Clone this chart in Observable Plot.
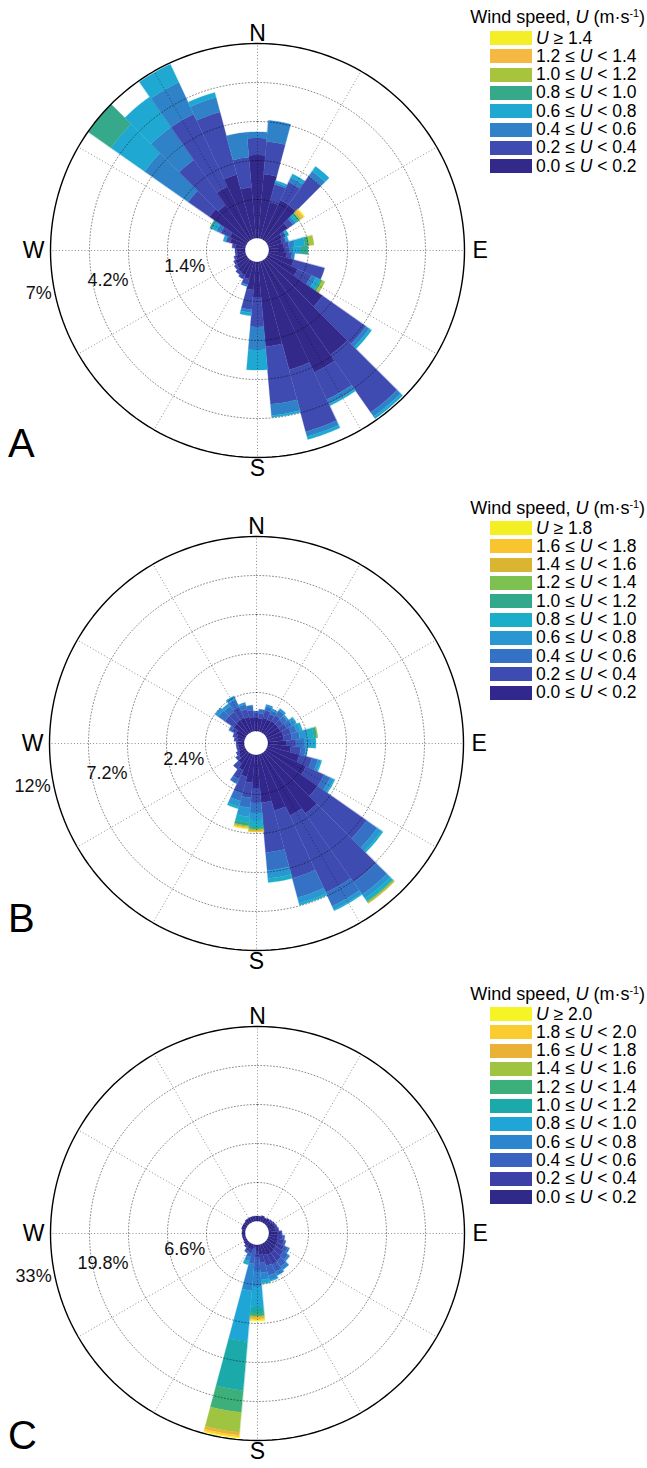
<!DOCTYPE html>
<html>
<head>
<meta charset="utf-8">
<script src="https://cdn.jsdelivr.net/npm/d3@7"></script>
<script src="https://cdn.jsdelivr.net/npm/@observablehq/plot@0.6"></script>
<style>
  body { margin: 0; background: #fff; font-family: "Liberation Sans", Arial, Helvetica, sans-serif; }
  .panel { position: relative; width: 647px; }
  .panel svg { display: block; }
  .legend-title { position: absolute; right: 2px; font-size: 18px; line-height: 18px; white-space: nowrap; color: #000; }
  .legend-title sup { font-size: 0.6em; position: relative; top: -0.55em; vertical-align: baseline; }
  .legend-row { position: absolute; left: 490px; height: 18px; display: flex; align-items: center; white-space: nowrap; font-size: 17.5px; color: #000; }
  .legend-row .swatch { width: 42px; height: 14px; margin-right: 4px; }
  .letter { position: absolute; left: 8px; font-size: 40px; line-height: 40px; color: #000; }
</style>
</head>
<body>
<div id="figure"></div>
<script>
// Direction bins (compass degrees, 10° wide, centred on each value)
const directions = d3.range(0, 360, 10);

// ---------- Site A ----------
const edgesA = [0, 0.2, 0.4, 0.6, 0.8, 1.0, 1.2, 1.4];
const colorsA = ["#33298a", "#3f4bb0", "#2f82c8", "#1fa9d2", "#35a98a", "#a7c43c", "#f5b843", "#f3ee27"];
const ringsA = [1.4, 2.8, 4.2, 5.6, 7];
const ringLabelsA = [1.4, 4.2, 7];
// frequency (%) per speed class, one value per direction bin
const freqA0 = [2.98, 2.30, 1.36, 1.54, 1.54, 0.93, 0.57, 0.50, 0.54, 0.57, 0.65, 0.93, 1.18, 2.44, 4.16, 4.42, 4.02, 3.05, 1.26, 1.01, 0.65, 0.57, 0.54, 0.47, 0.43, 0.36, 0.29, 0.29, 0.36, 0.57, 0.65, 1.65, 1.54, 2.08, 2.37, 1.83];
const freqA1 = [0.61, 1.18, 0.65, 0.72, 1.26, 0.22, 0.15, 0.15, 0.18, 0.15, 0.18, 1.15, 0.54, 1.90, 2.52, 1.07, 2.30, 2.08, 1.07, 0.71, 0.21, 0.15, 0.11, 0.10, 0.07, 0.07, 0.07, 0.07, 0.11, 0.15, 0.36, 0.93, 1.98, 2.87, 2.33, 1.08];
const freqA2 = [0.22, 0.76, 0.07, 0.18, 0.22, 0.11, 0, 0, 0.21, 0.14, 0.10, 0, 0.18, 0.15, 0.18, 0.18, 0.18, 0.40, 0.83, 0.11, 0.07, 0, 0, 0, 0, 0, 0, 0, 0, 0.03, 0.17, 1.91, 1.43, 1.26, 0.54, 0.90];
const freqA3 = [0, 0, 0.07, 0.14, 0.21, 0.10, 0.11, 0.10, 0.36, 0.29, 0, 0, 0.18, 0.10, 0.10, 0.07, 0.11, 0.07, 0.72, 0.11, 0, 0, 0, 0, 0, 0, 0, 0, 0, 0.08, 0.18, 1.47, 1.33, 0.72, 0.18, 0];
const freqA4 = [0, 0, 0, 0, 0, 0.08, 0, 0, 0.15, 0.25, 0, 0, 0.07, 0, 0, 0, 0, 0, 0, 0, 0, 0, 0, 0, 0, 0, 0, 0, 0, 0, 0.08, 1.00, 0, 0, 0, 0];
const freqA5 = [0, 0, 0, 0, 0, 0.07, 0, 0, 0.18, 0, 0, 0, 0.11, 0, 0, 0, 0, 0, 0, 0, 0, 0, 0, 0, 0, 0, 0, 0, 0, 0, 0, 0, 0, 0, 0, 0];
const freqA6 = [0, 0, 0, 0, 0, 0.11, 0, 0, 0, 0, 0, 0, 0, 0, 0, 0, 0, 0, 0, 0, 0, 0, 0, 0, 0, 0, 0, 0, 0, 0, 0, 0, 0, 0, 0, 0];
const freqA7 = [0, 0, 0, 0, 0, 0.04, 0, 0, 0, 0, 0, 0, 0, 0, 0, 0, 0, 0, 0, 0, 0, 0, 0, 0, 0, 0, 0, 0, 0, 0, 0, 0, 0, 0, 0, 0];

// ---------- Site B ----------
const edgesB = [0, 0.2, 0.4, 0.6, 0.8, 1.0, 1.2, 1.4, 1.6, 1.8];
const colorsB = ["#31278c", "#3e4cb2", "#3572c6", "#2a96d2", "#1cadc9", "#33a98c", "#7dc150", "#d9b531", "#f8c430", "#f4ef22"];
const ringsB = [2.4, 4.8, 7.2, 9.6, 12];
const ringLabelsB = [2.4, 7.2, 12];
const freqB0 = [0.80, 0.80, 0.86, 0.86, 0.92, 0.92, 0.92, 0.98, 0.98, 1.11, 1.42, 2.03, 2.65, 3.88, 4.55, 4.18, 3.57, 2.95, 2.03, 1.72, 1.42, 1.11, 0.80, 0.55, 0.43, 0.37, 0.37, 0.37, 0.43, 0.49, 0.62, 0.92, 0.98, 0.98, 0.92, 0.86];
const freqB1 = [0.31, 0.31, 0.49, 0.37, 0.43, 0.37, 0.43, 0.50, 0.50, 0.61, 0.61, 0.80, 1.23, 3.69, 5.17, 5.24, 4.31, 3.08, 0.92, 0.93, 1.04, 0.61, 0.43, 0.25, 0.19, 0.12, 0.12, 0.12, 0.19, 0.25, 0.30, 0.68, 0.62, 0.74, 0.50, 0.43];
const freqB2 = [0.12, 0.24, 0.25, 0.25, 0.37, 0.31, 0.37, 0.37, 0.49, 0.50, 0.31, 0.37, 0.43, 0.80, 0.93, 0.92, 1.23, 1.11, 0.62, 0.61, 0.49, 0.31, 0, 0, 0, 0, 0, 0, 0, 0, 0.19, 0.49, 0.43, 0.50, 0.30, 0.31];
const freqB3 = [0, 0, 0.12, 0.12, 0.13, 0.12, 0.25, 0.24, 0.49, 0.43, 0.12, 0.18, 0.24, 0.31, 0.30, 0.24, 0.37, 0.49, 0.49, 0.56, 0.37, 0, 0, 0, 0, 0, 0, 0, 0, 0, 0, 0.25, 0.19, 0.24, 0.13, 0];
const freqB4 = [0, 0, 0, 0, 0, 0, 0.06, 0.13, 0.37, 0.30, 0, 0.07, 0.07, 0.12, 0.19, 0.07, 0.12, 0.25, 0.37, 0.36, 0.13, 0, 0, 0, 0, 0, 0, 0, 0, 0, 0, 0, 0, 0, 0, 0];
const freqB5 = [0, 0, 0, 0, 0, 0, 0, 0, 0.19, 0, 0, 0, 0, 0, 0.06, 0, 0, 0, 0.12, 0.19, 0, 0, 0, 0, 0, 0, 0, 0, 0, 0, 0, 0, 0, 0, 0, 0];
const freqB6 = [0, 0, 0, 0, 0, 0, 0, 0, 0.06, 0, 0, 0, 0, 0, 0.06, 0, 0, 0, 0.07, 0.06, 0, 0, 0, 0, 0, 0, 0, 0, 0, 0, 0, 0, 0, 0, 0, 0];
const freqB7 = [0, 0, 0, 0, 0, 0, 0, 0, 0, 0, 0, 0, 0, 0, 0.06, 0, 0, 0, 0.06, 0.06, 0, 0, 0, 0, 0, 0, 0, 0, 0, 0, 0, 0, 0, 0, 0, 0];
const freqB8 = [0, 0, 0, 0, 0, 0, 0, 0, 0, 0, 0, 0, 0, 0, 0, 0, 0, 0, 0.06, 0.06, 0, 0, 0, 0, 0, 0, 0, 0, 0, 0, 0, 0, 0, 0, 0, 0];
const freqB9 = [0, 0, 0, 0, 0, 0, 0, 0, 0, 0, 0, 0, 0, 0, 0, 0, 0, 0, 0, 0.03, 0, 0, 0, 0, 0, 0, 0, 0, 0, 0, 0, 0, 0, 0, 0, 0];

// ---------- Site C ----------
const edgesC = [0, 0.2, 0.4, 0.6, 0.8, 1.0, 1.2, 1.4, 1.6, 1.8, 2.0];
const colorsC = ["#2f2a8a", "#3c3fa8", "#3a62c0", "#2c86cf", "#1fa5d6", "#1ca9aa", "#3daf7b", "#9fc441", "#e9b236", "#fbcc30", "#f5f424"];
const ringsC = [6.6, 13.2, 19.8, 26.4, 33];
const ringLabelsC = [6.6, 19.8, 33];
const freqC0 = [0.85, 0.85, 1.02, 0.85, 1.02, 0.85, 1.02, 1.18, 1.18, 1.35, 1.52, 1.69, 1.69, 1.86, 2.03, 2.03, 1.86, 1.69, 1.02, 0.34, 0.85, 0.85, 0.68, 0.68, 0.51, 0.51, 0.51, 0.51, 0.51, 0.68, 0.68, 0.68, 0.85, 0.85, 0.85, 0.85];
const freqC1 = [0, 0, 0, 0, 0, 0.33, 0.33, 0.34, 0.51, 0.68, 0.85, 1.02, 1.36, 1.52, 1.69, 1.86, 1.86, 1.36, 1.01, 0.34, 0.67, 0.50, 0.34, 0, 0, 0, 0, 0, 0, 0, 0, 0, 0, 0, 0, 0];
const freqC2 = [0, 0, 0, 0, 0, 0, 0, 0, 0, 0.17, 0.34, 0.34, 0.68, 1.02, 1.19, 1.36, 1.70, 1.69, 2.37, 2.54, 0.68, 0.34, 0, 0, 0, 0, 0, 0, 0, 0, 0, 0, 0, 0, 0, 0];
const freqC3 = [0, 0, 0, 0, 0, 0, 0, 0, 0, 0, 0, 0, 0.33, 0.34, 0.67, 0.67, 0.84, 1.18, 2.71, 4.56, 0.68, 0, 0, 0, 0, 0, 0, 0, 0, 0, 0, 0, 0, 0, 0, 0];
const freqC4 = [0, 0, 0, 0, 0, 0, 0, 0, 0, 0, 0, 0, 0, 0, 0, 0, 0.17, 0.51, 3.38, 8.64, 0.34, 0, 0, 0, 0, 0, 0, 0, 0, 0, 0, 0, 0, 0, 0, 0];
const freqC5 = [0, 0, 0, 0, 0, 0, 0, 0, 0, 0, 0, 0, 0, 0, 0, 0, 0, 0.17, 1.02, 8.29, 0.33, 0, 0, 0, 0, 0, 0, 0, 0, 0, 0, 0, 0, 0, 0, 0];
const freqC6 = [0, 0, 0, 0, 0, 0, 0, 0, 0, 0, 0, 0, 0, 0, 0, 0, 0, 0, 0.51, 3.72, 0, 0, 0, 0, 0, 0, 0, 0, 0, 0, 0, 0, 0, 0, 0, 0];
const freqC7 = [0, 0, 0, 0, 0, 0, 0, 0, 0, 0, 0, 0, 0, 0, 0, 0, 0, 0, 0.16, 3.39, 0, 0, 0, 0, 0, 0, 0, 0, 0, 0, 0, 0, 0, 0, 0, 0];
const freqC8 = [0, 0, 0, 0, 0, 0, 0, 0, 0, 0, 0, 0, 0, 0, 0, 0, 0, 0, 0.34, 0.50, 0, 0, 0, 0, 0, 0, 0, 0, 0, 0, 0, 0, 0, 0, 0, 0];
const freqC9 = [0, 0, 0, 0, 0, 0, 0, 0, 0, 0, 0, 0, 0, 0, 0, 0, 0, 0, 0.17, 0.34, 0, 0, 0, 0, 0, 0, 0, 0, 0, 0, 0, 0, 0, 0, 0, 0];
const freqC10 = [0, 0, 0, 0, 0, 0, 0, 0, 0, 0, 0, 0, 0, 0, 0, 0, 0, 0, 0.17, 0.17, 0, 0, 0, 0, 0, 0, 0, 0, 0, 0, 0, 0, 0, 0, 0, 0];

const compass = [
  {label: "N", angle: 0},
  {label: "E", angle: 90},
  {label: "S", angle: 180},
  {label: "W", angle: 270}
];

const FONT = '"Liberation Sans", Arial, Helvetica, sans-serif';
const WIDTH = 647;
const rad = (deg) => deg * Math.PI / 180;

// class names used as the ordinal colour domain
function classNames(edges) {
  return edges.map((e, i) => i < edges.length - 1
    ? `${e.toFixed(1)}–${edges[i + 1].toFixed(1)}`
    : `≥${e.toFixed(1)}`);
}

// annular sectors: each stacked speed class of each direction bin
function sectorRows(freqs, names, hole, binWidth) {
  const rows = [];
  directions.forEach((dir, i) => {
    let inner = hole;
    freqs.forEach((series, k) => {
      const v = series[i];
      if (!(v > 0)) return;
      const outer = inner + v;
      const steps = 12;
      for (let s = 0; s <= steps; s++) {
        const a = rad(dir - binWidth / 2 + binWidth * s / steps);
        rows.push({
          id: `${dir}-${k}`, cls: names[k],
          x1: outer * Math.sin(a), y1: outer * Math.cos(a),
          x2: inner * Math.sin(a), y2: inner * Math.cos(a)
        });
      }
      inner = outer;
    });
  });
  return rows;
}

function circleRows(radii) {
  const rows = [];
  radii.forEach((r) => {
    for (let a = 0; a <= 360; a += 2) rows.push({ring: r, x: r * Math.sin(rad(a)), y: r * Math.cos(rad(a))});
  });
  return rows;
}

function rose(cfg) {
  const {freqs, edges, colors, rings, labeled, height, cx, cy} = cfg;
  const maxPct = rings[rings.length - 1];
  const k = 195 / maxPct;          // pixels per percent
  const hole = 12 / k;             // empty centre, in percent units
  const outer = hole + maxPct;
  const names = classNames(edges);
  const sectors = sectorRows(freqs, names, hole, 10);
  const gridRings = circleRows(rings.slice(0, -1).map((r) => hole + r));
  const rim = circleRows([outer]);
  const spokes = d3.range(0, 360, 30).map((a) => ({
    x1: hole * Math.sin(rad(a)), y1: hole * Math.cos(rad(a)),
    x2: outer * Math.sin(rad(a)), y2: outer * Math.cos(rad(a))
  }));
  const labelAngle = rad(260);
  const ringText = labeled.map((v) => ({
    text: `${v}%`,
    x: (hole + v) * Math.sin(labelAngle),
    y: (hole + v) * Math.cos(labelAngle)
  }));
  const dirPos = (d) => ({...d, x: outer * Math.sin(rad(d.angle)), y: outer * Math.cos(rad(d.angle))});
  const dirs = compass.map(dirPos);
  const grid = {stroke: "#000", strokeOpacity: 0.45, strokeWidth: 1, strokeDasharray: "1,2.2"};

  return Plot.plot({
    width: WIDTH,
    height,
    margin: 0,
    x: {domain: [-cx / k, (WIDTH - cx) / k], axis: null},
    y: {domain: [-(height - cy) / k, cy / k], axis: null},
    color: {type: "ordinal", domain: names, range: colors},
    style: {fontFamily: FONT, background: "white", color: "black"},
    marks: [
      Plot.area(sectors, {x1: "x1", y1: "y1", x2: "x2", y2: "y2", z: "id", fill: "cls", stroke: "cls", strokeWidth: 0.3}),
      Plot.line(gridRings, {x: "x", y: "y", z: "ring", ...grid}),
      Plot.link(spokes, {x1: "x1", y1: "y1", x2: "x2", y2: "y2", ...grid}),
      Plot.line(rim, {x: "x", y: "y", stroke: "#000", strokeWidth: 1.4}),
      Plot.text(ringText, {x: "x", y: "y", text: "text", textAnchor: "end", dx: -2, dy: 7, fontSize: 18, fill: "#111"}),
      Plot.text(dirs.filter((d) => d.label === "N"), {x: "x", y: "y", text: "label", lineAnchor: "bottom", dy: -3, fontSize: 23}),
      Plot.text(dirs.filter((d) => d.label === "S"), {x: "x", y: "y", text: "label", lineAnchor: "top", dy: 2, fontSize: 23}),
      Plot.text(dirs.filter((d) => d.label === "E"), {x: "x", y: "y", text: "label", textAnchor: "start", dx: 8, fontSize: 23}),
      Plot.text(dirs.filter((d) => d.label === "W"), {x: "x", y: "y", text: "label", textAnchor: "end", dx: -6, fontSize: 23})
    ]
  });
}

function legend(panel, edges, colors, titleY, firstRowY, rowStep) {
  const title = document.createElement("div");
  title.className = "legend-title";
  title.style.top = `${titleY - 9}px`;
  title.innerHTML = 'Wind speed, <i>U</i> (m·s<sup>-1</sup>)';
  panel.appendChild(title);
  const n = edges.length;
  for (let k = n - 1; k >= 0; k--) {
    const row = document.createElement("div");
    row.className = "legend-row";
    row.style.top = `${firstRowY + (n - 1 - k) * rowStep - 9}px`;
    const sw = document.createElement("div");
    sw.className = "swatch";
    sw.style.background = colors[k];
    const txt = document.createElement("span");
    txt.innerHTML = k === n - 1
      ? `<i>U</i> ≥ ${edges[k].toFixed(1)}`
      : `${edges[k].toFixed(1)} ≤ <i>U</i> &lt; ${edges[k + 1].toFixed(1)}`;
    row.appendChild(sw);
    row.appendChild(txt);
    panel.appendChild(row);
  }
}

const panels = [
  {letter: "A", freqs: [freqA0, freqA1, freqA2, freqA3, freqA4, freqA5, freqA6, freqA7], edges: edgesA, colors: colorsA,
   rings: ringsA, labeled: ringLabelsA, height: 490, cx: 257, cy: 250, titleY: 17, firstRowY: 38, letterY: 443},
  {letter: "B", freqs: [freqB0, freqB1, freqB2, freqB3, freqB4, freqB5, freqB6, freqB7, freqB8, freqB9], edges: edgesB, colors: colorsB,
   rings: ringsB, labeled: ringLabelsB, height: 490, cx: 256, cy: 253, titleY: 18, firstRowY: 38, letterY: 428},
  {letter: "C", freqs: [freqC0, freqC1, freqC2, freqC3, freqC4, freqC5, freqC6, freqC7, freqC8, freqC9, freqC10], edges: edgesC, colors: colorsC,
   rings: ringsC, labeled: ringLabelsC, height: 488, cx: 257, cy: 253, titleY: 14, firstRowY: 34, letterY: 455}
];

const fig = document.getElementById("figure");
for (const p of panels) {
  const div = document.createElement("div");
  div.className = "panel";
  div.style.height = `${p.height}px`;
  div.appendChild(rose(p));
  legend(div, p.edges, p.colors, p.titleY, p.firstRowY, 18.3);
  const letter = document.createElement("div");
  letter.className = "letter";
  letter.style.top = `${p.letterY - 20}px`;
  letter.textContent = p.letter;
  div.appendChild(letter);
  fig.appendChild(div);
}
</script>
</body>
</html>
